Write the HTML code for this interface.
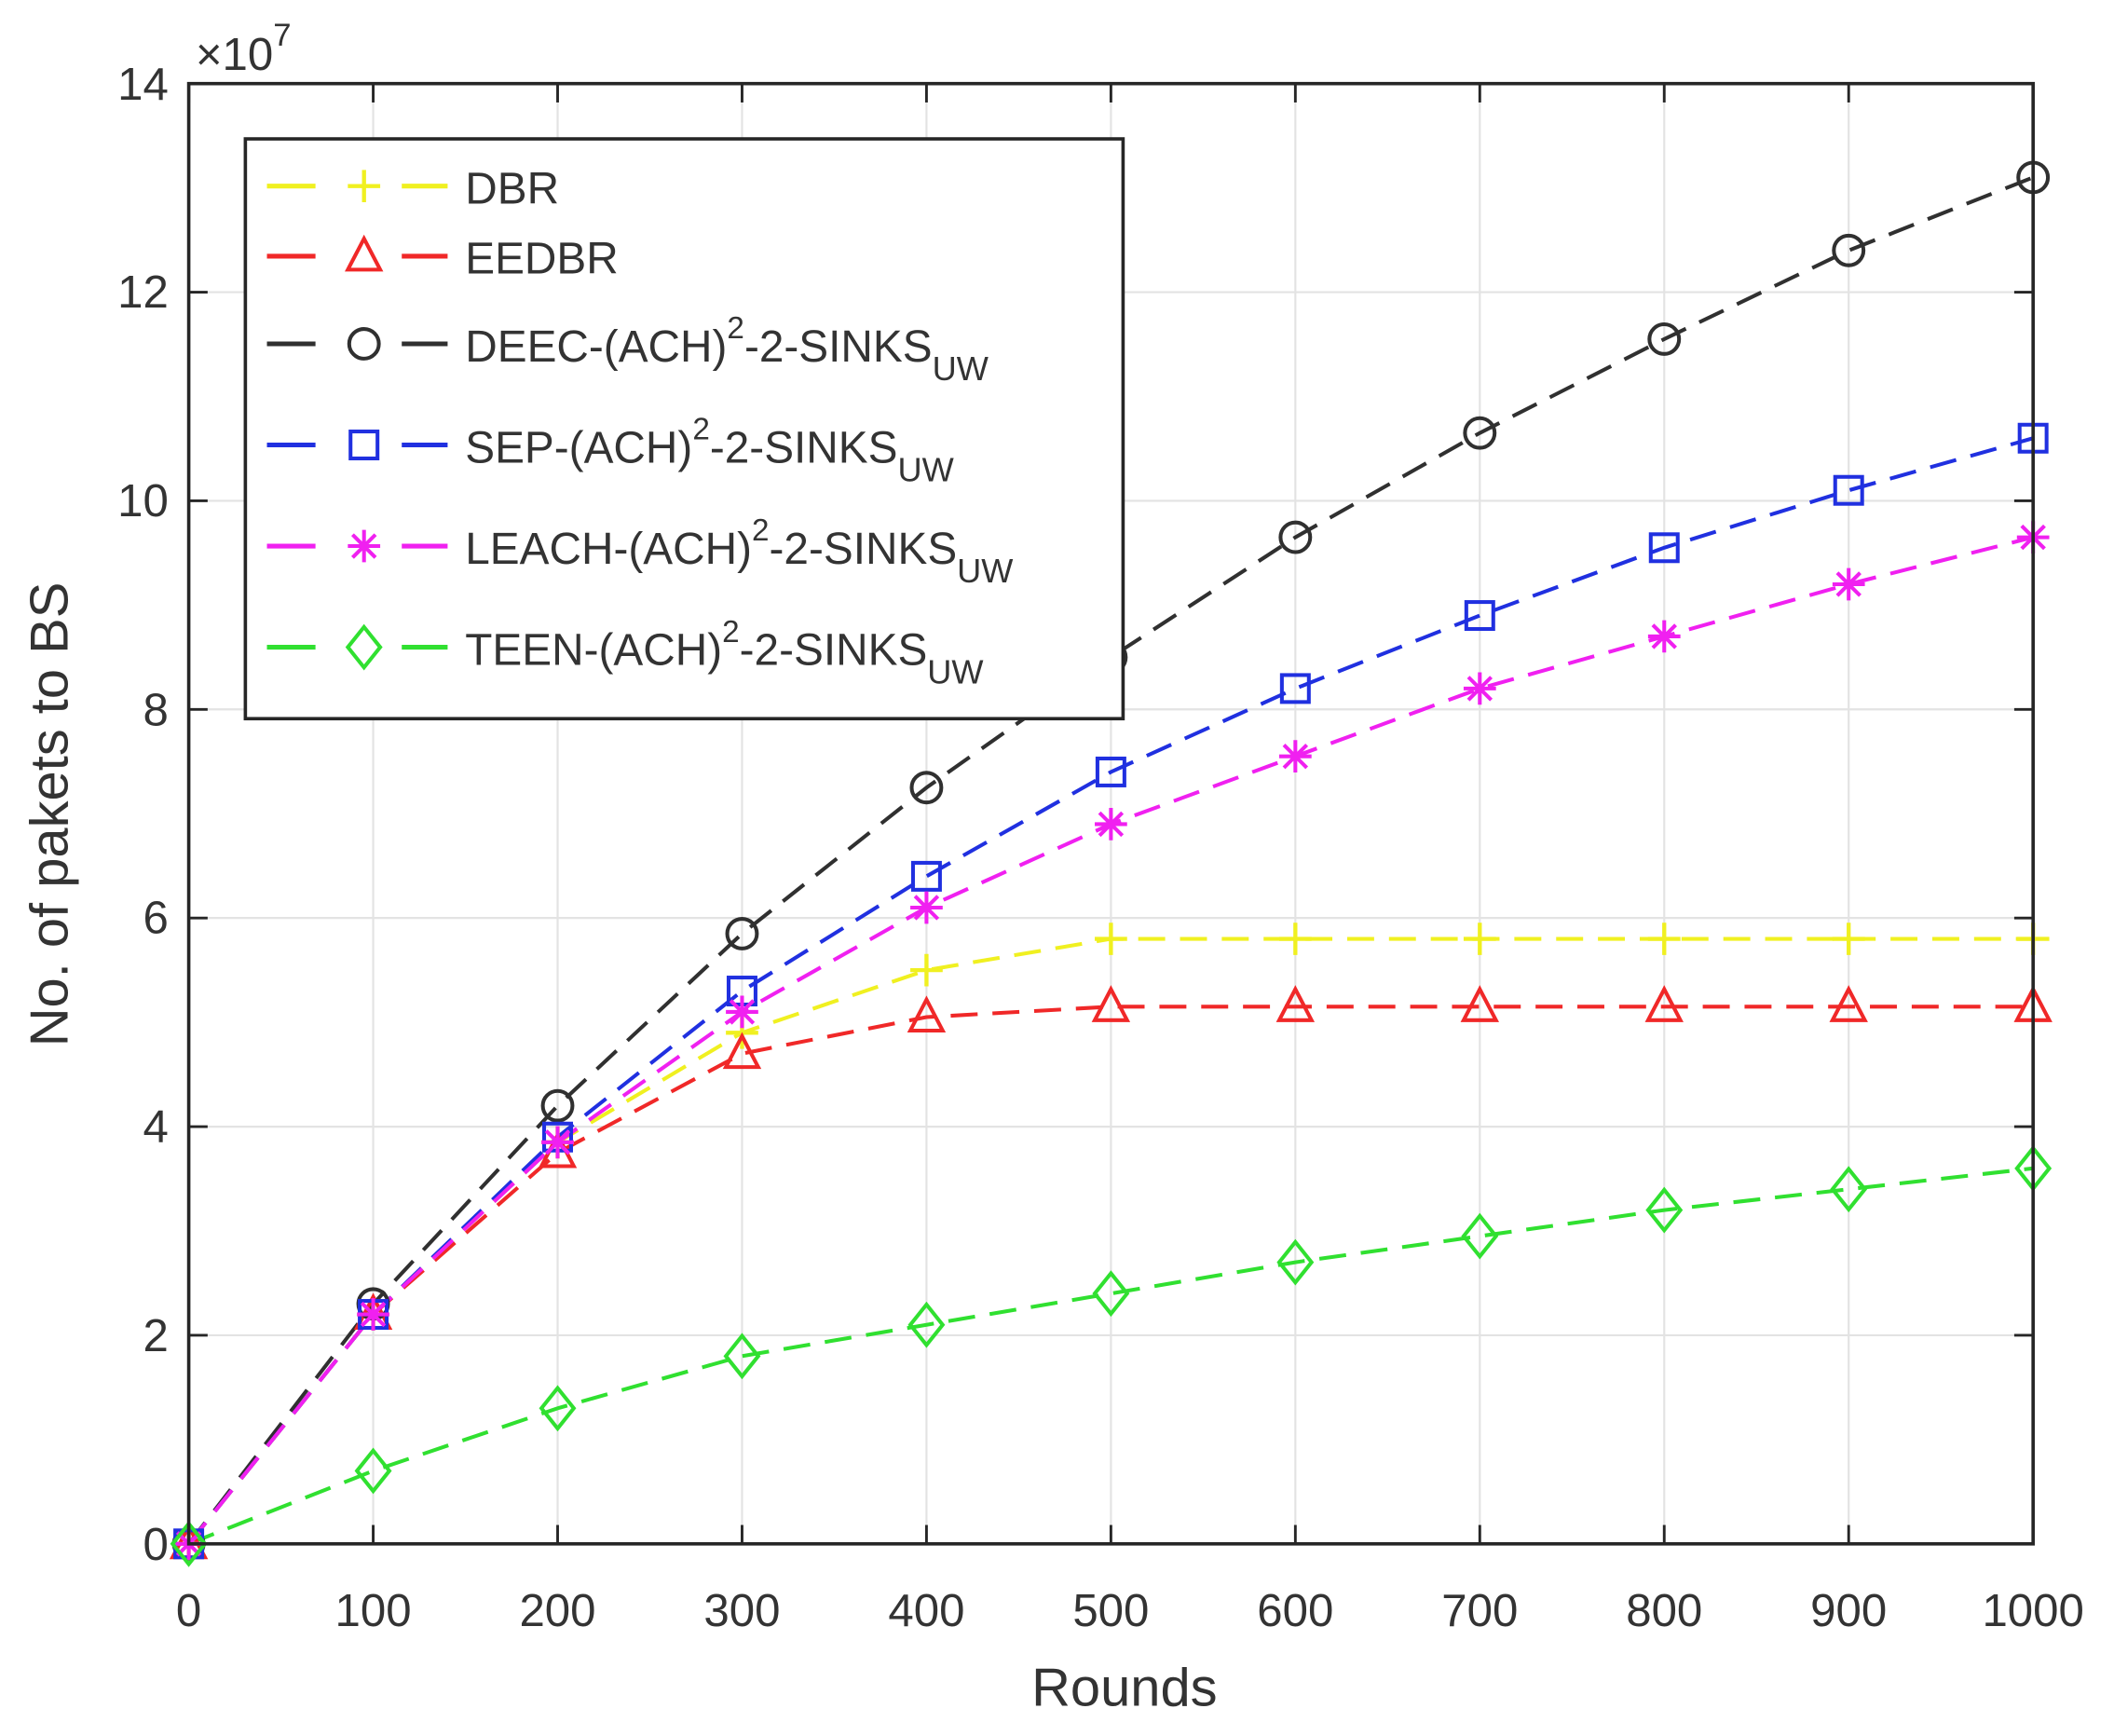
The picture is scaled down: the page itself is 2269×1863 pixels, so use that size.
<!DOCTYPE html>
<html><head><meta charset="utf-8"><style>
html,body{margin:0;padding:0;background:#fff}
svg{display:block}
text{font-family:"Liberation Sans",Arial,sans-serif;fill:#333}
</style></head><body>
<svg id="s" width="2269" height="1863" viewBox="0 0 1568 1287.5" preserveAspectRatio="none" xmlns="http://www.w3.org/2000/svg">
<rect x="0" y="0" width="1568" height="1288" fill="#fff"/>
<g stroke="#e3e3e3" stroke-width="1.5">
<line x1="276.8" y1="62" x2="276.8" y2="1145"/><line x1="413.6" y1="62" x2="413.6" y2="1145"/>
<line x1="550.4" y1="62" x2="550.4" y2="1145"/><line x1="687.2" y1="62" x2="687.2" y2="1145"/>
<line x1="824" y1="62" x2="824" y2="1145"/><line x1="960.8" y1="62" x2="960.8" y2="1145"/>
<line x1="1097.6" y1="62" x2="1097.6" y2="1145"/><line x1="1234.4" y1="62" x2="1234.4" y2="1145"/>
<line x1="1371.2" y1="62" x2="1371.2" y2="1145"/>
<line x1="140" y1="990.3" x2="1508" y2="990.3"/><line x1="140" y1="835.6" x2="1508" y2="835.6"/>
<line x1="140" y1="680.8" x2="1508" y2="680.8"/><line x1="140" y1="526.1" x2="1508" y2="526.1"/>
<line x1="140" y1="371.4" x2="1508" y2="371.4"/><line x1="140" y1="216.7" x2="1508" y2="216.7"/>
</g>
<g id="series" fill="none" stroke-width="2.8" stroke-dasharray="20,11"></g>
<g id="marks" fill="none"></g>
<rect x="140" y="62" width="1368" height="1083" fill="none" stroke="#262626" stroke-width="2.5"/>
<g id="ticks" stroke="#262626" stroke-width="2"></g>
<g font-size="34" text-anchor="middle">
<text x="140" y="1206">0</text><text x="276.8" y="1206">100</text><text x="413.6" y="1206">200</text>
<text x="550.4" y="1206">300</text><text x="687.2" y="1206">400</text><text x="824" y="1206">500</text>
<text x="960.8" y="1206">600</text><text x="1097.6" y="1206">700</text><text x="1234.4" y="1206">800</text>
<text x="1371.2" y="1206">900</text><text x="1508" y="1206">1000</text>
</g>
<g font-size="34" text-anchor="end">
<text x="125" y="1157">0</text><text x="125" y="1002">2</text><text x="125" y="847">4</text>
<text x="125" y="692">6</text><text x="125" y="538">8</text><text x="125" y="383">10</text>
<text x="125" y="228">12</text><text x="125" y="74">14</text>
</g>
<text x="145" y="52" font-size="34">×10<tspan font-size="24" dy="-18">7</tspan></text>
<text x="834" y="1265" font-size="40" text-anchor="middle">Rounds</text>
<text transform="translate(50,604) rotate(-90)" font-size="40" text-anchor="middle">No. of pakets to BS</text>
<rect x="182" y="103" width="651" height="430" fill="#fff" stroke="#262626" stroke-width="2.5"/>
<g id="leg"></g>
<g font-size="33" style="fill:#222">
<text x="345" y="151">DBR</text>
<text x="345" y="203">EEDBR</text>
<text x="345" y="268">DEEC-(ACH)<tspan font-size="23" dy="-17">2</tspan><tspan dy="17">-2-SINKS</tspan><tspan font-size="25" dy="14">UW</tspan></text>
<text x="345" y="343">SEP-(ACH)<tspan font-size="23" dy="-17">2</tspan><tspan dy="17">-2-SINKS</tspan><tspan font-size="25" dy="14">UW</tspan></text>
<text x="345" y="418">LEACH-(ACH)<tspan font-size="23" dy="-17">2</tspan><tspan dy="17">-2-SINKS</tspan><tspan font-size="25" dy="14">UW</tspan></text>
<text x="345" y="493">TEEN-(ACH)<tspan font-size="23" dy="-17">2</tspan><tspan dy="17">-2-SINKS</tspan><tspan font-size="25" dy="14">UW</tspan></text>
</g>
<script>
var NS="http://www.w3.org/2000/svg";
function el(p,t,a){var e=document.createElementNS(NS,t);for(var k in a)e.setAttribute(k,a[k]);p.appendChild(e);return e;}
var X=function(i){return 140+i*136.8},Y=function(v){return 1145-v*77.36};
var S=[
["#f0f020","plus",[0,2.2,3.85,4.9,5.5,5.8,5.8,5.8,5.8,5.8,5.8]],
["#f02828","tri",[0,2.2,3.75,4.7,5.05,5.15,5.15,5.15,5.15,5.15,5.15]],
["#303030","circ",[0,2.3,4.2,5.85,7.25,8.5,9.65,10.65,11.55,12.4,13.1]],
["#2030e0","sq",[0,2.2,3.9,5.3,6.4,7.4,8.2,8.9,9.55,10.1,10.6]],
["#f020f0","star",[0,2.2,3.85,5.1,6.1,6.9,7.55,8.2,8.7,9.2,9.65]],
["#30e030","dia",[0,0.7,1.3,1.8,2.1,2.4,2.7,2.95,3.2,3.4,3.6]]];
var g=document.getElementById("series"),m=document.getElementById("marks"),L=document.getElementById("leg");
function mark(p,t,x,y,c){var r=12;
 if(t=="plus"){el(p,"path",{d:"M"+(x-r)+" "+y+"H"+(x+r)+"M"+x+" "+(y-r)+"V"+(y+r),stroke:c,"stroke-width":3,fill:"none"});}
 if(t=="tri")el(p,"path",{d:"M"+x+" "+(y-13)+"L"+(x+12)+" "+(y+10)+"H"+(x-12)+"Z",stroke:c,fill:"none","stroke-width":2.8});
 if(t=="circ")el(p,"circle",{cx:x,cy:y,r:11,stroke:c,fill:"none","stroke-width":2.8});
 if(t=="sq")el(p,"rect",{x:x-10,y:y-10,width:20,height:20,stroke:c,fill:"none","stroke-width":2.8});
 if(t=="star"){var d="";for(var k=0;k<4;k++){var a=k*Math.PI/4;d+="M"+(x-r*Math.cos(a))+" "+(y-r*Math.sin(a))+"L"+(x+r*Math.cos(a))+" "+(y+r*Math.sin(a));}el(p,"path",{d:d,stroke:c,"stroke-width":2.8,fill:"none"});}
 if(t=="dia")el(p,"path",{d:"M"+x+" "+(y-15)+"L"+(x+12)+" "+y+"L"+x+" "+(y+15)+"L"+(x-12)+" "+y+"Z",stroke:c,fill:"none","stroke-width":2.8});
}
var ly=[138,190,255,330,405,480];
S.forEach(function(s,j){
 var pts=s[2].map(function(v,i){return X(i)+","+Y(v)}).join(" ");
 el(g,"polyline",{points:pts,stroke:s[0]});
 s[2].forEach(function(v,i){mark(m,s[1],X(i),Y(v),s[0]);});
 el(L,"path",{d:"M198 "+ly[j]+"H234M298 "+ly[j]+"H332",stroke:s[0],"stroke-width":3.5});
 mark(L,s[1],270,ly[j],s[0]);
});
var t=document.getElementById("ticks");
for(var i=0;i<=10;i++){el(t,"line",{x1:X(i),y1:1145,x2:X(i),y2:1131});el(t,"line",{x1:X(i),y1:62,x2:X(i),y2:76});}
for(var v=0;v<=14;v+=2){el(t,"line",{x1:140,y1:Y(v),x2:154,y2:Y(v)});el(t,"line",{x1:1508,y1:Y(v),x2:1494,y2:Y(v)});}
</script>
</svg>
</body></html>
